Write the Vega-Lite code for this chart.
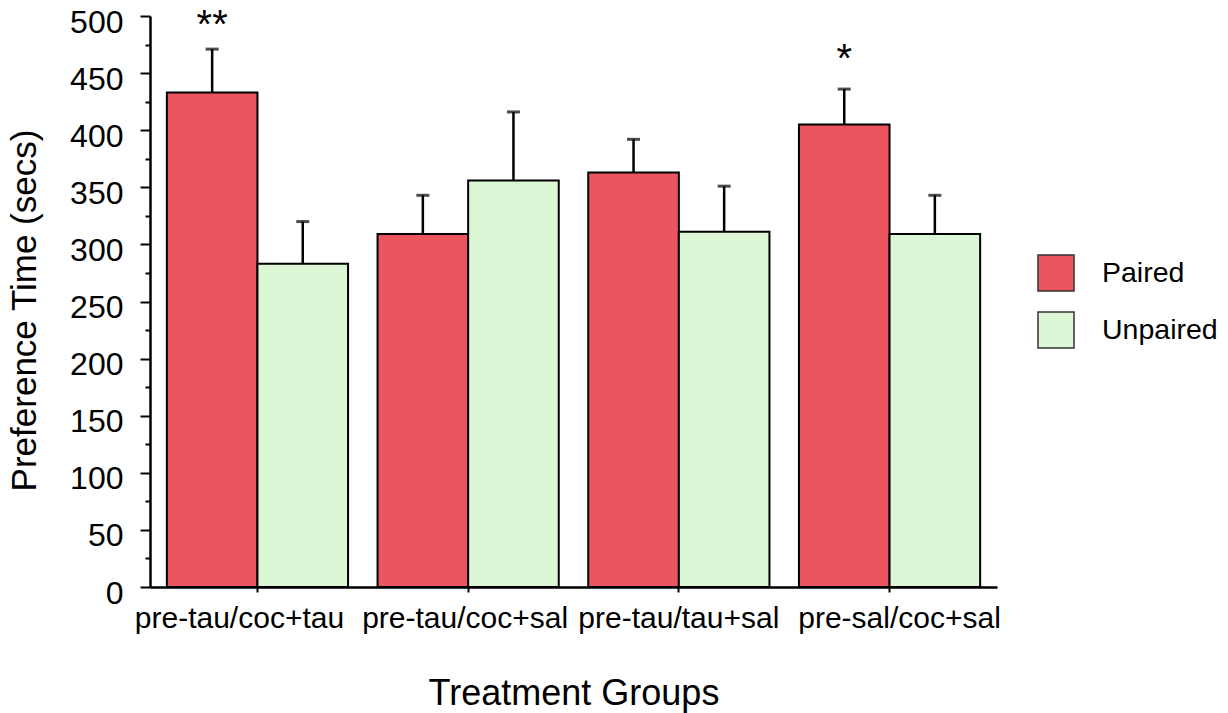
{
  "$schema": "https://vega.github.io/schema/vega-lite/v6.json",
  "autosize": "none",
  "width": 847,
  "height": 571,
  "padding": {"left": 150, "top": 16, "right": 231, "bottom": 126},
  "background": "white",
  "config": {
    "font": "Liberation Sans",
    "view": {"stroke": null}
  },
  "datasets": {
    "bars": [
      {"group": "pre-tau/coc+tau", "series": "Paired", "time": 433, "err": 471},
      {"group": "pre-tau/coc+tau", "series": "Unpaired", "time": 283, "err": 320},
      {"group": "pre-tau/coc+sal", "series": "Paired", "time": 309, "err": 343},
      {"group": "pre-tau/coc+sal", "series": "Unpaired", "time": 356, "err": 416},
      {"group": "pre-tau/tau+sal", "series": "Paired", "time": 363, "err": 392},
      {"group": "pre-tau/tau+sal", "series": "Unpaired", "time": 311, "err": 351},
      {"group": "pre-sal/coc+sal", "series": "Paired", "time": 405, "err": 436},
      {"group": "pre-sal/coc+sal", "series": "Unpaired", "time": 309, "err": 343}
    ],
    "stars": [
      {"group": "pre-tau/coc+tau", "series": "Paired", "pos": 481, "label": "**"},
      {"group": "pre-sal/coc+sal", "series": "Paired", "pos": 451, "label": "*"}
    ]
  },
  "encoding": {
    "x": {
      "field": "group",
      "type": "nominal",
      "sort": ["pre-tau/coc+tau", "pre-tau/coc+sal", "pre-tau/tau+sal", "pre-sal/coc+sal"],
      "scale": {"paddingInner": 0.14, "paddingOuter": 0.08},
      "axis": {
        "title": "Treatment Groups",
        "titleFontSize": 36,
        "titleFontWeight": "normal",
        "titleColor": "black",
        "titleBaseline": "middle",
        "titleY": 106,
        "labelAngle": 0,
        "labelFontSize": 30,
        "labelLimit": 0,
        "labelColor": "black",
        "labelPadding": 11,
        "labelOffset": {"expr": "datum.value == 'pre-tau/coc+tau' ? -18 : datum.value == 'pre-tau/coc+sal' ? -3 : datum.value == 'pre-sal/coc+sal' ? 10 : 0"},
        "tickSize": 5,
        "tickWidth": 2,
        "tickColor": "black",
        "domainColor": "black",
        "domainWidth": 2.5,
        "grid": false
      }
    },
    "xOffset": {
      "field": "series",
      "type": "nominal",
      "sort": ["Paired", "Unpaired"],
      "scale": {"paddingInner": 0, "paddingOuter": 0}
    }
  },
  "layer": [
    {
      "data": {"name": "bars"},
      "mark": {"type": "rule", "strokeWidth": 2.5, "color": "black"},
      "encoding": {
        "y": {"field": "time", "type": "quantitative", "axis": null},
        "y2": {"field": "err"}
      }
    },
    {
      "data": {"name": "bars"},
      "mark": {"type": "tick", "size": 13, "thickness": 3, "color": "black", "orient": "horizontal"},
      "encoding": {
        "y": {"field": "err", "type": "quantitative", "axis": null}
      }
    },
    {
      "data": {"name": "bars"},
      "mark": {"type": "bar", "stroke": "black", "strokeWidth": 2},
      "encoding": {
        "y": {
          "field": "time",
          "type": "quantitative",
          "scale": {"domain": [0, 500], "nice": false, "zero": true},
          "axis": {
            "orient": "left",
            "values": [0, 50, 100, 150, 200, 250, 300, 350, 400, 450, 500],
            "title": "Preference Time (secs)",
            "titleFontSize": 35,
            "titleFontWeight": "normal",
            "titleColor": "black",
            "titleX": -126,
            "titleY": 294,
            "titleAngle": -90,
            "titleBaseline": "middle",
            "titleAlign": "center",
            "labelFontSize": 32,
            "labelColor": "black",
            "labelPadding": 17,
            "labelOffset": 6,
            "tickSize": 10,
            "tickWidth": 2,
            "tickColor": "black",
            "domainColor": "black",
            "domainWidth": 2.5,
            "grid": false
          }
        },
        "color": {
          "field": "series",
          "type": "nominal",
          "scale": {"domain": ["Paired", "Unpaired"], "range": ["#EC5560", "#DCF7D6"]},
          "legend": {
            "title": null,
            "orient": "none",
            "legendX": 887,
            "legendY": 238,
            "padding": 0,
            "symbolType": "square",
            "symbolSize": 1296,
            "symbolStrokeColor": "#333333",
            "symbolStrokeWidth": 1.5,
            "labelFontSize": 28.5,
            "labelLimit": 0,
            "labelColor": "black",
            "labelOffset": 27,
            "rowPadding": 15
          }
        }
      }
    },
    {
      "data": {"name": "stars"},
      "mark": {"type": "text", "fontSize": 40, "baseline": "alphabetic", "align": "center", "color": "black"},
      "encoding": {
        "y": {"field": "pos", "type": "quantitative", "axis": null},
        "text": {"field": "label"}
      }
    },
    {
      "data": {"name": "bars"},
      "mark": {"type": "rule", "opacity": 0},
      "encoding": {
        "y": {
          "field": "time",
          "type": "quantitative",
          "axis": {
            "orient": "left",
            "values": [25, 75, 125, 175, 225, 275, 325, 375, 425, 475],
            "title": null,
            "labels": false,
            "domain": false,
            "tickSize": 5,
            "tickWidth": 2,
            "tickColor": "black",
            "grid": false
          }
        }
      }
    }
  ],
  "resolve": {"axis": {"y": "independent"}}
}
